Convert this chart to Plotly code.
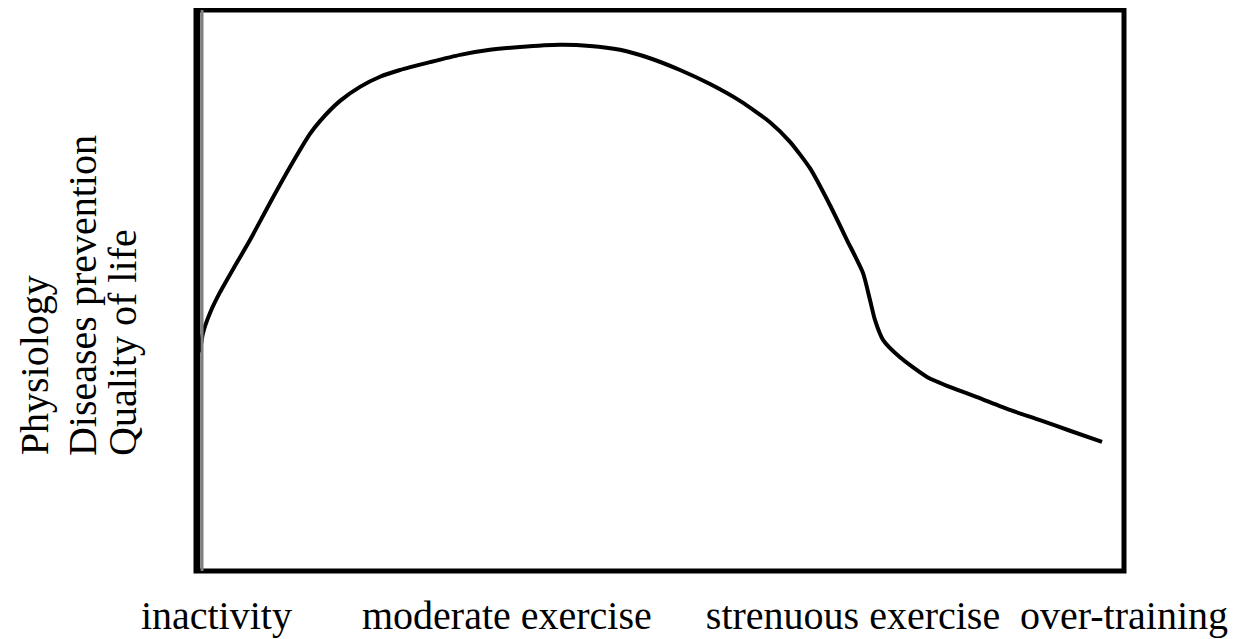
import plotly.graph_objects as go

# Exercise intensity (0-100) vs. benefit (0-100)
intensity = [0.43, 0.75, 1.51, 2.59, 4.20, 5.82, 7.97, 10.13, 12.28, 13.36, 15.52, 17.67,
             19.83, 21.98, 25.22, 28.45, 31.68, 34.91, 39.22, 42.46, 45.69, 48.92, 52.16,
             55.39, 58.62, 61.85, 64.01, 66.16, 68.32, 70.15, 71.88, 72.63, 73.17, 74.03,
             75.86, 78.77, 81.57, 84.16, 87.72, 90.95, 94.18, 97.63]
benefit = [39.0, 42.4, 46.0, 49.7, 54.4, 59.0, 65.6, 72.0, 77.9, 80.2, 83.8, 86.3,
           88.1, 89.3, 90.7, 92.0, 92.9, 93.4, 93.8, 93.6, 92.9, 91.4, 89.3,
           86.8, 83.8, 80.0, 76.5, 71.8, 65.2, 59.0, 53.1, 48.3, 44.7, 41.2,
           38.1, 34.6, 32.6, 31.0, 28.7, 26.9, 25.0, 23.0]

x_tick_vals = [2.2, 33.5, 70.8, 100]
x_tick_text = ["inactivity", "moderate exercise", "strenuous exercise", "over-training"]

y_labels = ["Physiology", "Diseases prevention", "Quality of life"]
y_label_x = [-0.174, -0.123, -0.080]

FONT = "Liberation Serif"

fig = go.Figure()
fig.add_trace(go.Scatter(
    x=intensity, y=benefit, mode="lines",
    line=dict(color="black", width=4, shape="spline", smoothing=0.6),
    hoverinfo="skip", showlegend=False,
))

fig.update_xaxes(range=[0, 100], showgrid=False, zeroline=False, showline=False,
                 tickmode="array", tickvals=x_tick_vals, ticktext=x_tick_text,
                 ticks="", tickfont=dict(family=FONT, size=40, color="black"),
                 ticklabelstandoff=17, automargin=False)
fig.update_yaxes(range=[0, 100], showgrid=False, zeroline=False, showline=False,
                 showticklabels=False, ticks="", automargin=False)

# frame
fig.add_shape(type="rect", xref="paper", yref="paper", x0=0, x1=1, y0=0, y1=1,
              line=dict(color="black", width=5), layer="above")
fig.add_shape(type="line", xref="paper", yref="paper", x0=0.0065, x1=0.0065, y0=0, y1=1,
              line=dict(color="#808080", width=3), layer="above")
fig.add_shape(type="line", xref="paper", yref="paper", x0=0.003, x1=0.003, y0=0, y1=1,
              line=dict(color="black", width=3), layer="above")

for txt, xp in zip(y_labels, y_label_x):
    fig.add_annotation(text=txt, xref="paper", yref="paper", x=xp, y=0.202,
                       xanchor="center", yanchor="bottom", textangle=-90,
                       showarrow=False, font=dict(family=FONT, size=40, color="black"))

fig.update_layout(
    width=1232, height=631,
    margin=dict(l=188, r=116, t=2, b=68, autoexpand=False),
    paper_bgcolor="white", plot_bgcolor="white",
)

fig.write_html("out.html")
